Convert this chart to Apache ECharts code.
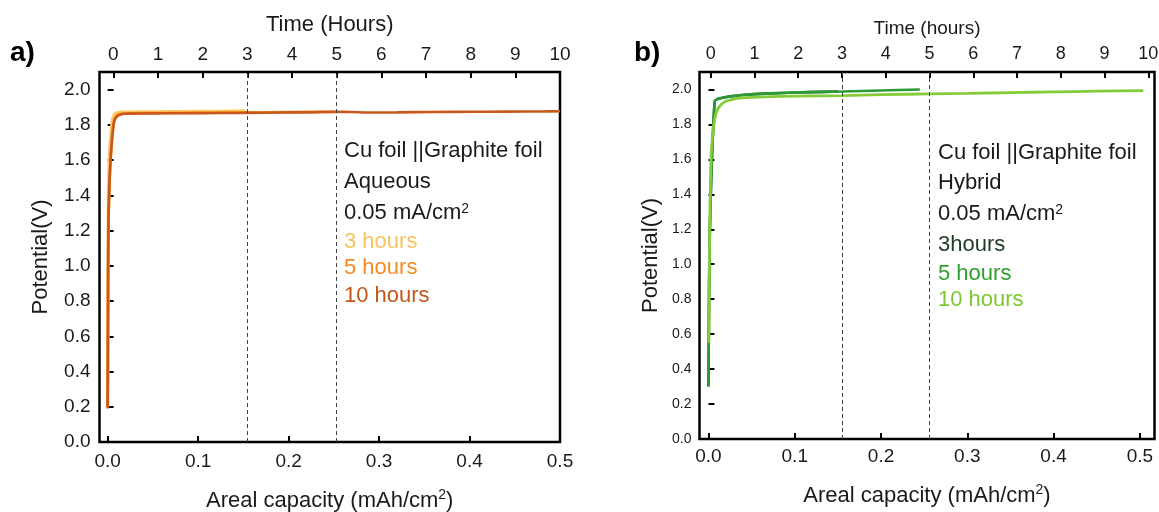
<!DOCTYPE html>
<html>
<head>
<meta charset="utf-8">
<script src="https://cdn.jsdelivr.net/npm/echarts@6/dist/echarts.min.js"></script>
<style>
  html, body { margin: 0; padding: 0; background: #fff; }
  #chart { width: 1159px; height: 512px; }
</style>
</head>
<body>
<div id="chart"></div>
<script>
// Axis tick values
const capacityTicks = [0, 0.1, 0.2, 0.3, 0.4, 0.5];
const timeTicks = [0, 1, 2, 3, 4, 5, 6, 7, 8, 9, 10];
const potentialTicks = [0, 0.2, 0.4, 0.6, 0.8, 1.0, 1.2, 1.4, 1.6, 1.8, 2.0];
const markerHours = [3, 5];

// Aqueous electrolyte, Cu foil || graphite foil
const aq3Cap = [0, 0.0004, 0.0008, 0.002, 0.004, 0.006, 0.009, 0.014, 0.03, 0.06, 0.10, 0.13, 0.152];
const aq3V   = [0.20, 0.80, 1.30, 1.60, 1.76, 1.84, 1.865, 1.872, 1.873, 1.874, 1.876, 1.877, 1.878];
const aq5Cap = [0, 0.0005, 0.001, 0.0025, 0.005, 0.0075, 0.011, 0.017, 0.05, 0.10, 0.15, 0.20, 0.25];
const aq5V   = [0.20, 0.90, 1.27, 1.54, 1.73, 1.83, 1.856, 1.864, 1.867, 1.868, 1.870, 1.872, 1.874];
const aq10Cap = [0, 0.0004, 0.0008, 0.0024, 0.0046, 0.0072, 0.0108, 0.0164, 0.025, 0.05, 0.08, 0.12, 0.15, 0.19, 0.23, 0.25, 0.27, 0.29, 0.32, 0.36, 0.40, 0.44, 0.48, 0.50];
const aq10V   = [0.19, 0.70, 1.22, 1.51, 1.70, 1.82, 1.850, 1.862, 1.864, 1.865, 1.866, 1.867, 1.868, 1.870, 1.872, 1.874, 1.873, 1.870, 1.871, 1.873, 1.874, 1.875, 1.876, 1.877];

// Hybrid electrolyte, Cu foil || graphite foil
const hy3Cap = [0, 0.0003, 0.0008, 0.0016, 0.0028, 0.0039, 0.0055, 0.0074, 0.010, 0.014, 0.019, 0.028, 0.042, 0.060, 0.085, 0.117, 0.150];
const hy3V   = [0.30, 0.55, 0.90, 1.19, 1.42, 1.595, 1.78, 1.935, 1.944, 1.950, 1.955, 1.962, 1.970, 1.975, 1.980, 1.985, 1.988];
const hy5Cap = [0, 0.0003, 0.0008, 0.0016, 0.0028, 0.0039, 0.0055, 0.0074, 0.010, 0.014, 0.019, 0.028, 0.042, 0.060, 0.085, 0.117, 0.155, 0.20, 0.245];
const hy5V   = [0.30, 0.55, 0.90, 1.19, 1.42, 1.595, 1.78, 1.935, 1.944, 1.950, 1.955, 1.962, 1.970, 1.975, 1.980, 1.985, 1.988, 1.994, 2.000];
const hy10Cap = [0.0005, 0.0008, 0.0014, 0.0028, 0.0045, 0.0063, 0.0085, 0.011, 0.015, 0.019, 0.027, 0.036, 0.05, 0.083, 0.12, 0.155, 0.20, 0.256, 0.30, 0.35, 0.40, 0.45, 0.504];
const hy10V   = [0.55, 0.90, 1.19, 1.60, 1.72, 1.80, 1.86, 1.89, 1.915, 1.930, 1.942, 1.950, 1.955, 1.960, 1.963, 1.965, 1.970, 1.975, 1.978, 1.982, 1.986, 1.990, 1.993];

const FONT = 'Liberation Sans, Arial, Helvetica, sans-serif';
const INK = '#1a1a1a';
const SUP = { s: { fontSize: 14, verticalAlign: 'top', lineHeight: 14, color: INK, fontFamily: FONT } };
const zip = (xs, ys) => xs.map((x, i) => [x, ys[i]]);

function bottomAxis(grid, min, max, labelSize, labelMargin, nameGap) {
  return {
    type: 'value', gridIndex: grid, position: 'bottom', min, max,
    axisLine: { show: false }, splitLine: { show: false },
    axisTick: { show: true, inside: true, length: 6, customValues: capacityTicks, lineStyle: { color: '#000', width: 2 } },
    axisLabel: { customValues: capacityTicks, formatter: v => v.toFixed(1), fontSize: labelSize, color: INK, fontFamily: FONT, margin: labelMargin },
    name: 'Areal capacity (mAh/cm{s|2})', nameLocation: 'middle', nameGap,
    nameTextStyle: { fontSize: 22, lineHeight: 26, color: INK, fontFamily: FONT, rich: SUP }
  };
}
function topAxis(grid, min, max, labelSize, labelMargin, title, titleSize, nameGap) {
  return {
    type: 'value', gridIndex: grid, position: 'top', min, max,
    axisLine: { show: false }, splitLine: { show: false },
    axisTick: { show: true, inside: true, length: 6, customValues: timeTicks, lineStyle: { color: '#000', width: 2 } },
    axisLabel: { customValues: timeTicks, fontSize: labelSize, color: INK, fontFamily: FONT, margin: labelMargin },
    name: title, nameLocation: 'middle', nameGap,
    nameTextStyle: { fontSize: titleSize, color: INK, fontFamily: FONT }
  };
}
function leftAxis(grid, labelSize, labelMargin, nameGap) {
  return {
    type: 'value', gridIndex: grid, min: 0, max: 2.1,
    axisLine: { show: false }, splitLine: { show: false },
    axisTick: { show: true, inside: true, length: 6, customValues: potentialTicks, lineStyle: { color: '#000', width: 2 } },
    axisLabel: { customValues: potentialTicks, formatter: v => v.toFixed(1), fontSize: labelSize, color: INK, fontFamily: FONT, margin: labelMargin },
    name: 'Potential(V)', nameLocation: 'middle', nameRotate: 90, nameGap,
    nameTextStyle: { fontSize: 22, color: INK, fontFamily: FONT }
  };
}
function curve(name, xAxisIndex, yAxisIndex, xs, ys, color, width) {
  return {
    name, type: 'line', xAxisIndex, yAxisIndex, data: zip(xs, ys),
    showSymbol: false, smooth: 0.25, lineStyle: { color, width }, itemStyle: { color }, z: 3
  };
}
function hourMarkers(xAxisIndex, yAxisIndex) {
  return {
    type: 'line', xAxisIndex, yAxisIndex, data: [], z: 2,
    markLine: {
      symbol: 'none', silent: true, label: { show: false },
      lineStyle: { color: '#444', width: 1, type: [4, 3] },
      data: markerHours.map(h => ({ xAxis: h }))
    }
  };
}
function note(x, y, text, color) {
  return {
    type: 'text', left: x, top: y,
    style: { text, fill: color, fontSize: 22, fontFamily: FONT, rich: { s: { fontSize: 14, verticalAlign: 'top', lineHeight: 14, fill: color, fontFamily: FONT } } }
  };
}

const frame = { show: true, borderColor: '#000', borderWidth: 2.5, backgroundColor: 'transparent', containLabel: false, outerBoundsMode: 'none' };

const chart = echarts.init(document.getElementById('chart'), null, { renderer: 'canvas' });
chart.setOption({
  animation: false,
  backgroundColor: '#fff',
  grid: [
    Object.assign({ left: 99.5, top: 72, width: 460.5, height: 370 }, frame),
    Object.assign({ left: 699.5, top: 72, width: 455, height: 367 }, frame)
  ],
  xAxis: [
    bottomAxis(0, -0.009, 0.5, 19, 10, 46),
    topAxis(0, -0.31, 10, 19, 8, 'Time (Hours)', 22, 36),
    bottomAxis(1, -0.0104, 0.517, 19, 8, 44),
    topAxis(1, -0.256, 10.14, 18, 9, 'Time (hours)', 19, 34)
  ],
  yAxis: [
    leftAxis(0, 19, 9, 48),
    leftAxis(1, 14, 8, 38)
  ],
  series: [
    hourMarkers(1, 0),
    curve('3 hours', 0, 0, aq3Cap, aq3V, '#FCC862', 3.5),
    curve('5 hours', 0, 0, aq5Cap, aq5V, '#F5952A', 2.8),
    curve('10 hours', 0, 0, aq10Cap, aq10V, '#C9581A', 2.6),
    hourMarkers(3, 1),
    curve('3hours', 2, 1, hy3Cap, hy3V, '#1F5A2C', 2.6),
    curve('5 hours', 2, 1, hy5Cap, hy5V, '#2A9A35', 2.6),
    curve('10 hours', 2, 1, hy10Cap, hy10V, '#86CC3A', 2.8)
  ],
  graphic: [
    { type: 'text', left: 10, top: 39, style: { text: 'a)', fontSize: 28, fontWeight: 'bold', fill: '#000', fontFamily: FONT } },
    { type: 'text', left: 634, top: 39, style: { text: 'b)', fontSize: 28, fontWeight: 'bold', fill: '#000', fontFamily: FONT } },
    note(344, 140, 'Cu foil ||Graphite foil', INK),
    note(344, 171, 'Aqueous', INK),
    note(344, 202, '0.05 mA/cm{s|2}', INK),
    note(344, 231, '3 hours', '#F7C45E'),
    note(344, 257, '5 hours', '#F58A1F'),
    note(344, 285, '10 hours', '#C4561A'),
    note(938, 142, 'Cu foil ||Graphite foil', INK),
    note(938, 172, 'Hybrid', INK),
    note(938, 203, '0.05 mA/cm{s|2}', INK),
    note(938, 234, '3hours', '#1D3A24'),
    note(938, 263, '5 hours', '#2EA02E'),
    note(938, 289, '10 hours', '#7DC832')
  ]
});
</script>
</body>
</html>
